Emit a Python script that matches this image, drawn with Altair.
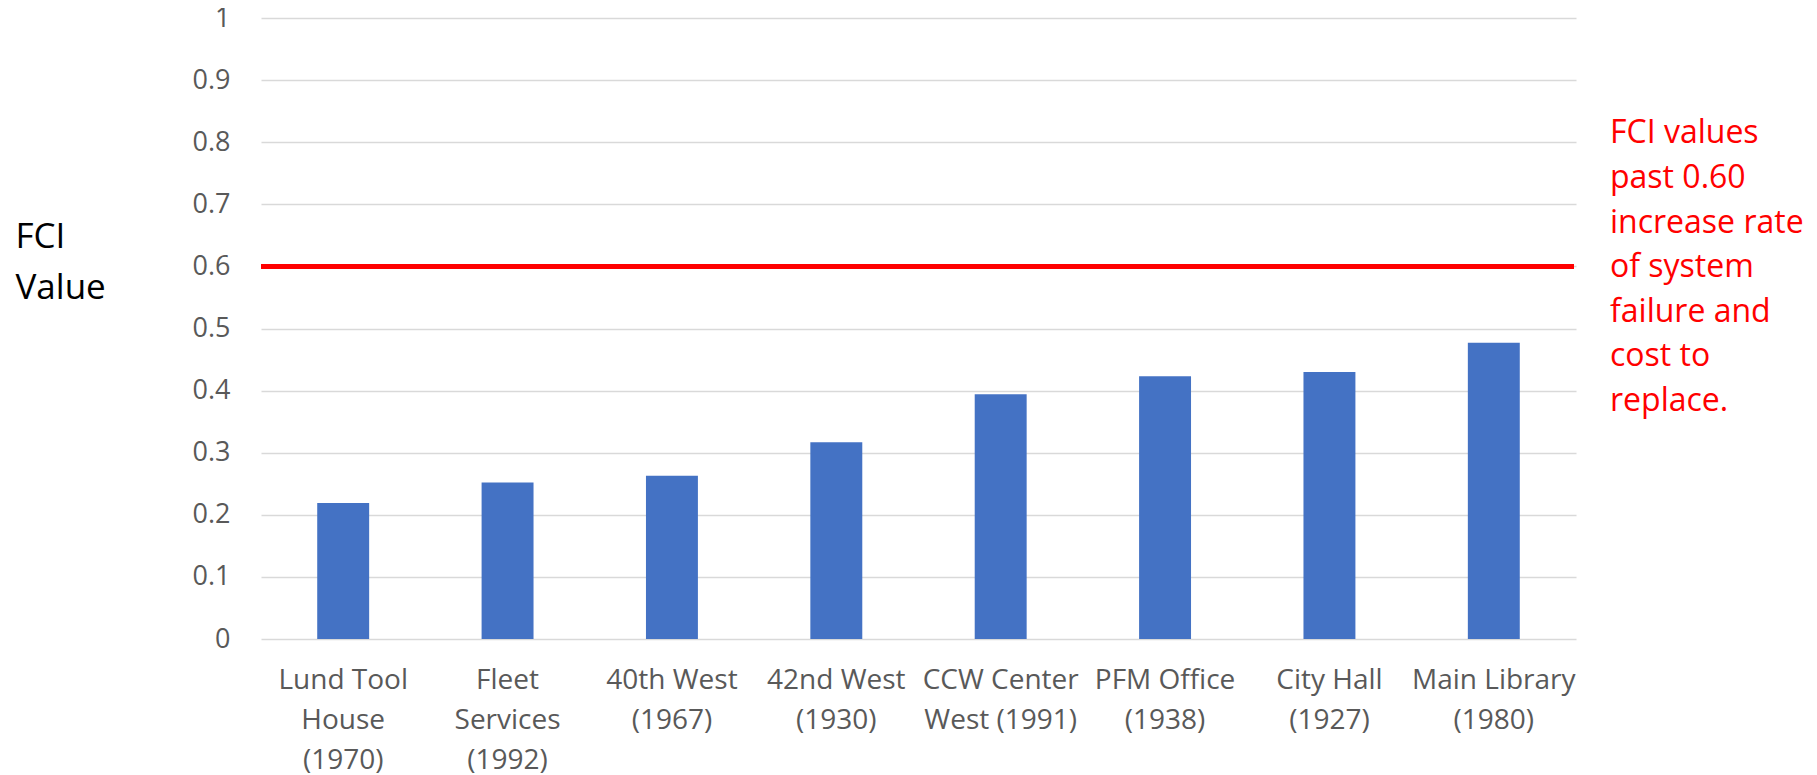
import altair as alt
import pandas as pd

buildings = ["Lund Tool\nHouse\n(1970)", "Fleet\nServices\n(1992)", "40th West\n(1967)",
             "42nd West\n(1930)", "CCW Center\nWest (1991)", "PFM Office\n(1938)",
             "City Hall\n(1927)", "Main Library\n(1980)"]
fci = [0.219, 0.252, 0.263, 0.317, 0.394, 0.423, 0.430, 0.477]
threshold = 0.6
y_ticks = [0, 0.1, 0.2, 0.3, 0.4, 0.5, 0.6, 0.7, 0.8, 0.9, 1.0]
note = ["FCI values", "past 0.60", "increase rate", "of system", "failure and", "cost to", "replace."]

df = pd.DataFrame({"building": buildings, "fci": fci})
FONT = "Open Sans"

base = alt.Chart(df)

bars = base.mark_bar(color="#4472C4").encode(
    x=alt.X("building:N", sort=buildings,
            scale=alt.Scale(paddingInner=0.684, paddingOuter=0.342),
            axis=alt.Axis(title=None, labelAngle=0, labelFont=FONT, labelFontSize=28,
                          labelColor="#595959", labelLineHeight=40,
                          labelExpr="split(datum.label, '\\n')",
                          labelPadding=27, ticks=False, domain=False, grid=False)),
    y=alt.Y("fci:Q", scale=alt.Scale(domain=[0, 1], nice=False),
            axis=alt.Axis(values=y_ticks, format=".1~f", labelFont=FONT, labelFontSize=27,
                          labelColor="#595959", labelPadding=31, ticks=False, domain=False,
                          grid=True, gridColor="#D9D9D9", gridWidth=1.5,
                          title=["FCI", "Value"], titleAngle=0, titleAlign="left",
                          titleBaseline="alphabetic", titleX=-246, titleY=229,
                          titleFont=FONT, titleFontSize=35, titleFontWeight="normal",
                          titleColor="#000000", titleLineHeight=51)),
)

rule = alt.Chart(pd.DataFrame({"t": [threshold]})).mark_rule(
    color="#FF0000", strokeWidth=5).encode(
    y="t:Q", x=alt.value(0), x2=alt.value(1313))

text = alt.Chart(pd.DataFrame({"t": [threshold], "note": [note]})).mark_text(
    color="#FF0000", font=FONT, fontSize=32, align="left", baseline="alphabetic",
    lineHeight=44.6, dy=-123).encode(
    y="t:Q", x=alt.value(1349), text="note")

chart = alt.layer(bars, rule, text).properties(
    width=1315, height=621,
    padding={"left": 253, "top": 10, "right": 233, "bottom": 143},
    autosize=alt.AutoSizeParams(type="none"),
).configure_view(stroke=None)

chart.save("out.html", embed_options={"renderer": "svg", "actions": False})
